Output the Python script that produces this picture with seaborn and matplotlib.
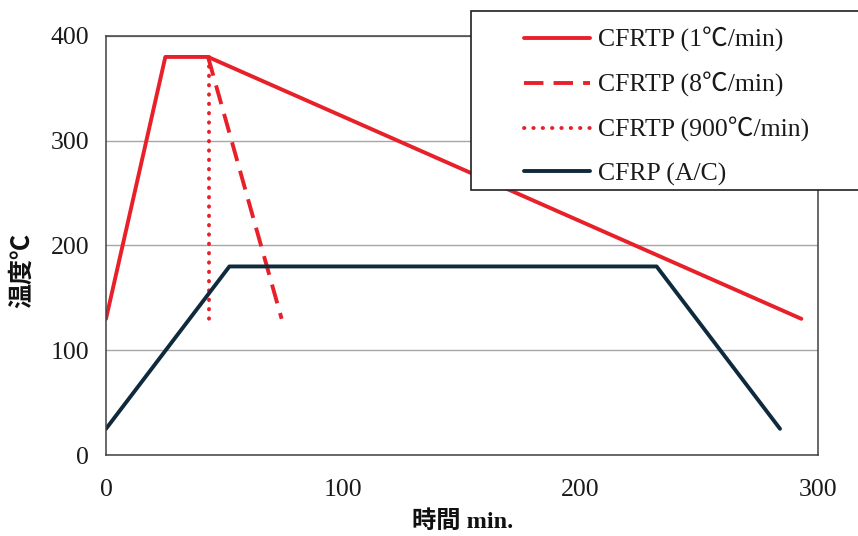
import matplotlib
matplotlib.use("Agg")
import matplotlib.pyplot as plt
from matplotlib.patches import Rectangle
from matplotlib.lines import Line2D
import seaborn as sns
import pandas as pd

# Temperature profiles (time in min, temperature in ℃)
t_1c = [0, 25, 43, 293]
temp_1c = [130, 380, 380, 130]

t_8c = [43, 74]
temp_8c = [380, 130]

t_900c = [43.3, 43.3]
temp_900c = [380, 130]

t_cfrp = [0, 52, 232, 284]
temp_cfrp = [25, 180, 180, 25]

labels = ["CFRTP (1℃/min)", "CFRTP (8℃/min)", "CFRTP (900℃/min)", "CFRP (A/C)"]
x_ticks = [0, 100, 200, 300]
y_ticks = [0, 100, 200, 300, 400]

RED = "#e8202a"
NAVY = "#0f2a3d"
LW = 2.8
FS = 18.5

sns.set_theme(style="white")
serif = ["Liberation Serif", "Noto Sans CJK JP", "DejaVu Sans"]
plt.rcParams["font.family"] = serif

fig = plt.figure(figsize=(8.58, 5.36), dpi=100)
ax = fig.add_axes([106 / 858, 1 - 455 / 536, 712 / 858, 419 / 536])

styles = [
    dict(color=RED, linestyle="-"),
    dict(color=RED, linestyle=(0, (5.0, 2.6))),
    dict(color=RED, linestyle=(0, (0.1, 2.3)), dash_capstyle="round"),
    dict(color=NAVY, linestyle="-"),
]
series = [(t_1c, temp_1c), (t_8c, temp_8c), (t_900c, temp_900c), (t_cfrp, temp_cfrp)]

for (xs, ys), st in zip(series, styles):
    df = pd.DataFrame({"time": xs, "temp": ys})
    sns.lineplot(data=df, x="time", y="temp", ax=ax, estimator=None, sort=False,
                 linewidth=LW, solid_capstyle="round", **st)

ax.set_xlim(0, 300)
ax.set_ylim(0, 400)
ax.set_xticks(x_ticks)
ax.set_yticks(y_ticks)
ax.set_xticklabels([str(v) for v in x_ticks])
ax.set_yticklabels([str(v) for v in y_ticks])
ax.yaxis.grid(True, color="#a6a6a6", linewidth=1.0)
ax.xaxis.grid(False)
for s in ax.spines.values():
    s.set_visible(True)
    s.set_color("#404040")
    s.set_linewidth(1.1)
ax.tick_params(axis="both", direction="out", length=6, width=1.1, color="#404040",
               labelsize=FS, labelcolor="#1a1a1a", pad=6)
ax.tick_params(axis="x", pad=11)
for lbl in ax.get_xticklabels() + ax.get_yticklabels():
    lbl.set_family(serif)

ax.set_xlabel("")
ax.set_ylabel("")
fig.text(463 / 858, 1 - 522 / 536, "時間 min.", ha="center", va="center",
         fontsize=17.5, fontweight="bold", family=serif, color="#111111")
fig.text(22 / 858, 1 - 270 / 536, "温度℃", ha="center", va="center", rotation=90,
         fontsize=18, fontweight="bold", family=serif, color="#111111")

# Legend box
frame = Rectangle((471 / 858, 1 - 190 / 536), 420 / 858, 179 / 536,
                  transform=fig.transFigure, facecolor="white", edgecolor="#202020",
                  linewidth=1.2, zorder=5, clip_on=False)
fig.patches.append(frame)

handles = [Line2D([0], [0], linewidth=LW, **st) for st in styles]
leg = fig.legend(handles, labels, loc="upper left",
                 bbox_to_anchor=(524 / 858, 1 - 27 / 536), frameon=False,
                 handlelength=2.57, handletextpad=0.3,
                 labelspacing=0.78, borderpad=0.0, borderaxespad=0.0,
                 prop={"family": serif, "size": FS})
leg.set_zorder(6)
for txt in leg.get_texts():
    txt.set_color("#1a1a1a")

fig.savefig("out.png", dpi=100)
